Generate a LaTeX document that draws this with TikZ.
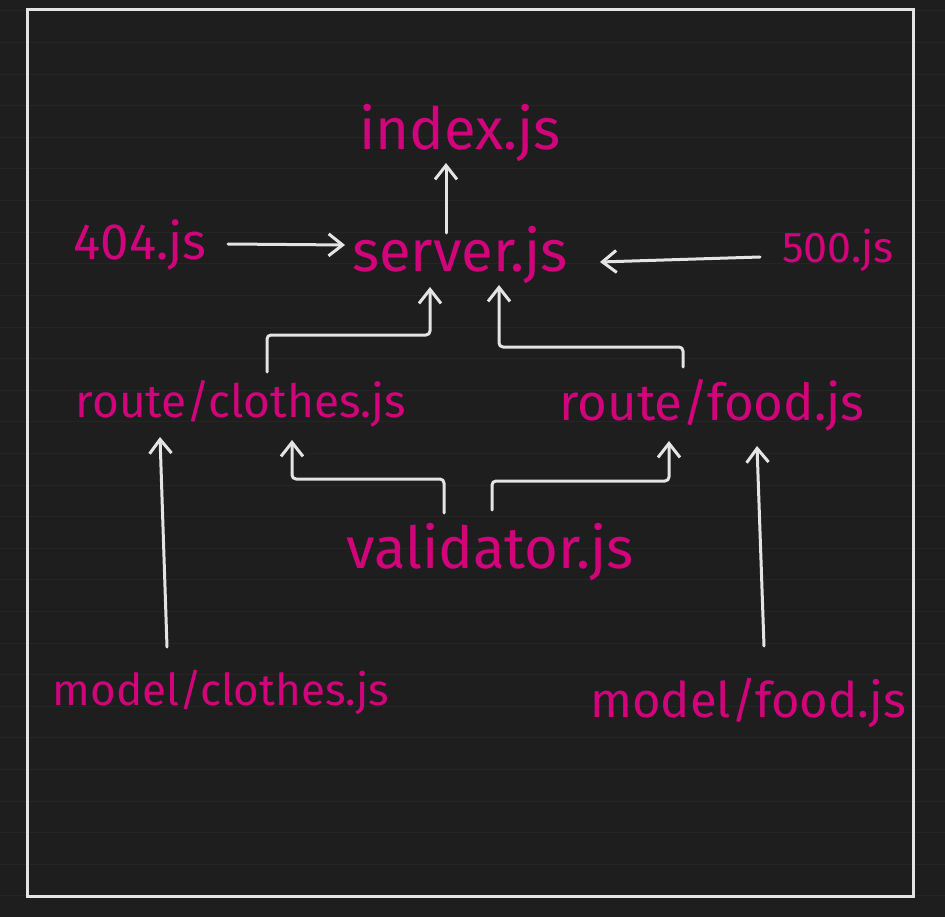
\documentclass[tikz,border=0pt]{standalone}
\usepackage{fontspec}
\setmainfont{Fira Sans}
\usepackage{tikz}
\usetikzlibrary{calc,arrows.meta}
\definecolor{canvas}{RGB}{30,30,30}
\definecolor{gridgrey}{RGB}{37,37,37}
\definecolor{chalk}{RGB}{228,228,228}
\definecolor{jspink}{RGB}{210,4,124}
\tikzset{wire/.style={chalk,line width=3pt,line cap=round,line join=round,rounded corners=4pt},
arrowwire/.style={wire,-{Straight Barb[length=14pt,width=22pt]}}}

\begin{document}
\begin{tikzpicture}[x=1pt,y=-1pt]

\tikzset{filenode/.style={text=jspink,inner sep=0pt,anchor=base},
bigfile/.style={filenode,font=\fontsize{58}{60}\selectfont},
midfile/.style={filenode,font=\fontsize{51}{53}\selectfont},
smallfile/.style={filenode,font=\fontsize{46}{48}\selectfont}}

% Background
\fill[canvas] (0,0) rectangle (945,917);
\useasboundingbox (0,0) rectangle (945,917);
\foreach \k in {0,...,28} \draw[gridgrey,line width=1pt] (0,11+31.6*\k) -- (945,11+31.6*\k); % grid lines

% Frame
\draw[chalk,line width=3pt] (27,10) rectangle (913,896);

% File nodes
\node[bigfile] (idx) at (460,150) {index.js};
\node[bigfile] (srv) at (460,272) {server.js};
\node[midfile] (e404) at (140,260) {404.js};
\node[smallfile,font=\fontsize{43}{45}\selectfont] (e500) at (838,263) {500.js};
\node[smallfile] (rcl) at (241,417) {route/clothes.js};
\node[midfile] (rfd) at (712,420) {route/food.js};
\node[bigfile] (val) at (490,568) {validator.js};
\node[smallfile,font=\fontsize{44}{46}\selectfont] (mcl) at (221,705) {model/clothes.js};
\node[midfile,font=\fontsize{49}{51}\selectfont] (mfd) at (748,717) {model/food.js};

% Server and error handlers
\draw[arrowwire] ($(srv.base)+(-14,-39)$) -- ($(idx.base)+(-14,13)$);
\draw[arrowwire] ($(e404.base)+(88,-16)$) -- ($(srv.base)+(-115,-27)$);
\draw[arrowwire] ($(e500.base)+(-78,-6)$) -- ($(srv.base)+(140,-10)$);

% Routes
\draw[arrowwire] ($(rcl.base)+(26,-45)$) |- ($(srv.base)+(-30,63)$) -- ($(srv.base)+(-30,15)$);
\draw[arrowwire] ($(rfd.base)+(-29,-53)$) |- ($(srv.base)+(39,75)$) -- ($(srv.base)+(39,13)$);

% Validator
\draw[arrowwire] ($(val.base)+(-46,-55)$) |- ($(rcl.base)+(51,62)$) -- ($(rcl.base)+(51,23)$);
\draw[arrowwire] ($(val.base)+(2,-58)$) |- ($(rfd.base)+(-43,61)$) -- ($(rfd.base)+(-43,21)$);

% Models
\draw[arrowwire] ($(mcl.base)+(-54,-58)$) -- ($(rcl.base)+(-81,20)$);
\draw[arrowwire] ($(mfd.base)+(16,-71)$) -- ($(rfd.base)+(45,26)$);

\end{tikzpicture}
\end{document}
